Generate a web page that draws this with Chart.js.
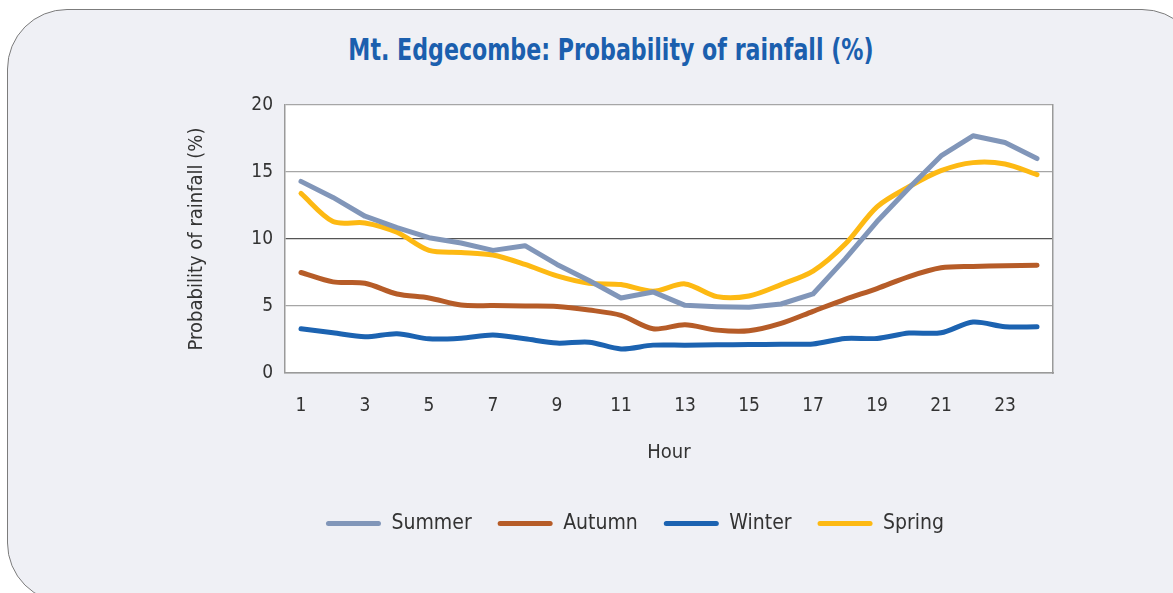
<!DOCTYPE html>
<html>
<head>
<meta charset="utf-8">
<script src="https://cdn.jsdelivr.net/npm/chart.js@4"></script>
<style>
  html, body { margin: 0; padding: 0; background: #fff; }
  body { width: 1173px; height: 593px; position: relative; overflow: hidden; }
  .panel {
    position: absolute; left: 7px; top: 9px; width: 1193px; height: 592px;
    background: #eff0f5; border: 1.5px solid #7c7c7c; border-radius: 60px;
  }
  .title {
    position: absolute; left: 0; top: 32px; width: 1222px; text-align: center;
    font: bold 30px 'Liberation Sans Narrow', 'DejaVu Sans Condensed', sans-serif;
    color: #1b5fae;
    transform: scaleX(0.82);
    transform-origin: 611px 0;
  }
  #wrap { position: absolute; left: 0; top: 0; width: 1173px; height: 593px; }
</style>
</head>
<body>
<div class="panel"></div>
<div class="title">Mt. Edgecombe: Probability of rainfall (%)</div>
<div id="wrap"><canvas id="myChart"></canvas></div>
<script>
// data
var hours = ['1','2','3','4','5','6','7','8','9','10','11','12','13','14','15','16','17','18','19','20','21','22','23','24'];
var summer = [14.3, 13.1, 11.7, 10.85, 10.1, 9.7, 9.15, 9.5, 8.1, 6.9, 5.6, 6.05, 5.05, 4.95, 4.9, 5.15, 5.9, 8.5, 11.3, 13.8, 16.2, 17.7, 17.2, 16.0];
var autumn = [7.5, 6.8, 6.7, 5.9, 5.6, 5.07, 5.03, 5.0, 4.97, 4.7, 4.3, 3.3, 3.6, 3.2, 3.15, 3.7, 4.6, 5.5, 6.3, 7.2, 7.85, 7.95, 8.0, 8.05];
var winter = [3.3, 3.0, 2.7, 2.93, 2.55, 2.6, 2.83, 2.55, 2.23, 2.3, 1.8, 2.08, 2.08, 2.1, 2.12, 2.15, 2.17, 2.58, 2.58, 2.98, 3.0, 3.8, 3.45, 3.45];
var spring = [13.4, 11.3, 11.2, 10.5, 9.15, 9.0, 8.8, 8.1, 7.25, 6.7, 6.6, 6.1, 6.65, 5.7, 5.75, 6.6, 7.6, 9.6, 12.4, 13.9, 15.1, 15.7, 15.6, 14.8];
var yTicks = [0, 5, 10, 15, 20];

var narrow = "'Liberation Sans Narrow', 'DejaVu Sans Condensed', sans-serif";

function line(label, data, color, tension) {
    return {
        label: label,
        data: data,
        borderColor: color,
        backgroundColor: color,
        borderWidth: 5,
        pointRadius: 0,
        tension: tension,
        borderCapStyle: 'round',
        borderJoinStyle: 'round'
    };
}

// white plot area
var plotBg = {
    id: 'plotBg',
    beforeDraw: function(chart) {
        var a = chart.chartArea, c = chart.ctx;
        c.save();
        c.fillStyle = '#ffffff';
        c.fillRect(a.left, a.top, a.right - a.left, a.bottom - a.top);
        c.restore();
    }
};

new Chart(document.getElementById('myChart').getContext('2d'), {
    type: 'line',
    data: {
        labels: hours,
        datasets: [
            line('Summer', summer, '#8196b9', 0),
            line('Autumn', autumn, '#b65c28', 0.3),
            line('Winter', winter, '#1c63b1', 0.3),
            line('Spring', spring, '#fdb913', 0.3)
        ]
    },
    plugins: [plotBg],
    options: {
        responsive: true,
        maintainAspectRatio: false,
        animation: false,
        layout: { padding: { left: 150, right: 53, top: 105, bottom: 49 } },
        scales: {
            x: {
                type: 'category',
                offset: true,
                grid: { display: false, drawTicks: false },
                border: { display: true, color: '#9a9a9a', width: 1.5 },
                ticks: {
                    autoSkip: false,
                    maxRotation: 0,
                    padding: 22,
                    color: '#333',
                    font: { family: narrow, size: 19 },
                    callback: function(v, i) { return i % 2 === 0 ? this.getLabelForValue(v) : ''; }
                },
                title: {
                    display: true,
                    text: 'Hour',
                    color: '#333',
                    font: { family: narrow, size: 20 },
                    padding: { top: 0, bottom: 22 }
                },
                afterFit: function(s) { s.height = 114; }
            },
            y: {
                min: 0,
                max: 20,
                afterBuildTicks: function(s) { s.ticks = yTicks.map(function(v) { return { value: v }; }); },
                grid: {
                    drawTicks: false,
                    lineWidth: 1.3,
                    color: function(c) { return c.tick && c.tick.value === 10 ? '#555555' : '#a6a6a6'; }
                },
                border: { display: true, color: '#9a9a9a', width: 1.5 },
                ticks: { padding: 12, color: '#333', font: { family: narrow, size: 19 } },
                title: {
                    display: true,
                    text: 'Probability of rainfall (%)',
                    color: '#333',
                    font: { family: narrow, size: 20 },
                    padding: { top: 35, bottom: 0 }
                },
                afterFit: function(s) { s.width = 135; }
            },
            y2: {
                position: 'right',
                grid: { display: false, drawTicks: false },
                border: { display: true, color: '#9a9a9a', width: 1.5 },
                ticks: { display: false },
                afterFit: function(s) { s.width = 67; }
            }
        },
        plugins: {
            title: { display: false },
            tooltip: { enabled: false },
            legend: {
                position: 'bottom',
                labels: {
                    boxWidth: 55,
                    boxHeight: 5,
                    padding: 26,
                    color: '#333',
                    useBorderRadius: true,
                    borderRadius: 2.5,
                    font: { family: narrow, size: 21 },
                    generateLabels: function(chart) {
                        return Chart.defaults.plugins.legend.labels.generateLabels(chart).map(function(it) {
                            it.lineWidth = 0;
                            it.fillStyle = it.strokeStyle;
                            return it;
                        });
                    }
                }
            }
        }
    }
});
</script>
</body>
</html>
